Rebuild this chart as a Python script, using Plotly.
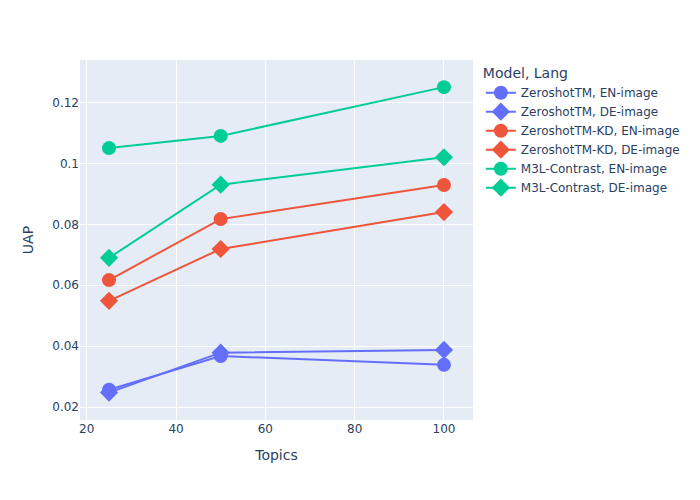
import plotly.graph_objects as go

topics = [25, 50, 100]
models = ["ZeroshotTM", "ZeroshotTM", "ZeroshotTM-KD", "ZeroshotTM-KD", "M3L-Contrast", "M3L-Contrast"]
langs = ["EN-image", "DE-image", "EN-image", "DE-image", "EN-image", "DE-image"]
zeroshot_en = [0.0257, 0.0368, 0.0339]
zeroshot_de = [0.0248, 0.0379, 0.0388]
kd_en = [0.0617, 0.0817, 0.0929]
kd_de = [0.0549, 0.0719, 0.0840]
m3l_en = [0.105, 0.109, 0.125]
m3l_de = [0.069, 0.093, 0.102]
series = [zeroshot_en, zeroshot_de, kd_en, kd_de, m3l_en, m3l_de]

colors = {"ZeroshotTM": "#636efa", "ZeroshotTM-KD": "#EF553B", "M3L-Contrast": "#00cc96"}
symbols = {"EN-image": "circle", "DE-image": "diamond"}

fig = go.Figure()
for m, l, vals in zip(models, langs, series):
    fig.add_trace(go.Scatter(
        x=topics, y=vals, mode="lines+markers", name=f"{m}, {l}",
        line=dict(color=colors[m], width=2),
        marker=dict(color=colors[m], symbol=symbols[l], size=14),
    ))

fig.update_layout(
    width=700, height=500,
    template="plotly",
    font=dict(family="Verdana, 'DejaVu Sans', sans-serif"),
    margin=dict(t=52, b=88, l=72, r=235, autoexpand=False),
    legend=dict(title=dict(text="Model, Lang")),
    xaxis=dict(title=dict(text="Topics"), range=[18.5, 106.5]),
    yaxis=dict(title=dict(text="UAP"), range=[0.0158, 0.1339]),
)
fig.write_html("out.html")
